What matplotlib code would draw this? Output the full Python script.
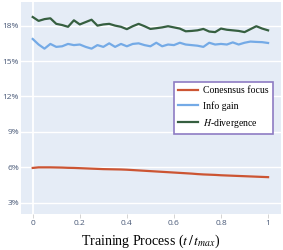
import matplotlib
matplotlib.use("Agg")
import matplotlib.pyplot as plt

plt.rcParams["mathtext.fontset"] = "stix"

progress = [i / 40 for i in range(41)]
consensus_focus = [5.95, 6.00, 6.00, 6.00, 5.99, 5.98, 5.96, 5.95, 5.93, 5.91,
                   5.89, 5.87, 5.85, 5.84, 5.83, 5.82, 5.80, 5.77, 5.74, 5.71,
                   5.68, 5.65, 5.62, 5.59, 5.56, 5.53, 5.50, 5.47, 5.43, 5.40,
                   5.38, 5.36, 5.33, 5.31, 5.29, 5.27, 5.25, 5.23, 5.21, 5.19, 5.17]
info_gain = [16.87, 16.40, 16.05, 16.45, 16.20, 16.25, 16.45, 16.35, 16.40, 16.20,
             16.05, 16.35, 16.20, 16.50, 16.20, 16.45, 16.25, 16.45, 16.50, 16.35,
             16.25, 16.55, 16.25, 16.40, 16.35, 16.55, 16.40, 16.35, 16.30, 16.20,
             16.55, 16.40, 16.45, 16.40, 16.58, 16.40, 16.55, 16.65, 16.62, 16.60, 16.53]
h_divergence = [18.73, 18.40, 18.55, 18.62, 18.15, 18.05, 17.90, 18.45, 18.10, 18.30,
                18.50, 18.00, 18.10, 18.15, 18.00, 17.90, 17.70, 17.95, 18.15, 17.95,
                17.72, 17.78, 17.85, 17.95, 17.85, 17.75, 17.52, 17.55, 17.60, 17.72,
                17.50, 17.45, 17.75, 17.65, 17.60, 17.55, 17.45, 17.70, 17.95, 17.75, 17.60]
series_names = ["Conesnsus focus", "Info gain", "$H$-divergence"]
x_ticks = [0, 0.2, 0.4, 0.6, 0.8, 1]
x_tick_labels = ["0", "0.2", "0.4", "0.6", "0.8", "1"]
y_ticks = [3, 6, 9, 12, 15, 18]
y_tick_labels = ["3%", "6%", "9%", "12%", "15%", "18%"]

colors = ["#cc5533", "#74aae6", "#365f40"]
tick_color = "#4a5a78"

fig = plt.figure(figsize=(2.83, 2.5), dpi=100)
ax = fig.add_axes([0.074, 0.144, 0.919, 0.848])
ax.set_facecolor("#E5ECF6")
for s in ax.spines.values():
    s.set_visible(False)

ax.set_xlim(-0.05, 1.055)
ax.set_ylim(2.05, 20.0)
ax.set_yticks(y_ticks)
ax.set_yticklabels(y_tick_labels)
ax.set_xticks(x_ticks)
ax.set_xticklabels(x_tick_labels)
ax.grid(axis="y", color="white", linewidth=1.0)
ax.axvline(0, color="white", linewidth=1.3, zorder=1)
ax.set_axisbelow(True)
ax.tick_params(axis="y", length=0, labelsize=6, labelcolor=tick_color, pad=1.5)
ax.tick_params(axis="x", length=3, width=0.6, color="#cccccc", labelsize=6,
               labelcolor=tick_color, pad=1.5)
for lab in ax.get_xticklabels() + ax.get_yticklabels():
    lab.set_family("Open Sans")

for vals, name, c in zip([consensus_focus, info_gain, h_divergence], series_names, colors):
    ax.plot(progress, vals, color=c, linewidth=1.6, label=name, zorder=3)

ax.set_xlabel("Training Process ($t\\,/\\,t_{max}$)", family="Liberation Serif",
              fontsize=10, labelpad=4)

leg = ax.legend(loc="upper left", bbox_to_anchor=(0.588, 0.623),
                prop={"family": "Liberation Serif", "size": 7},
                frameon=True, fancybox=False, handlelength=2.0,
                handletextpad=0.5, borderpad=0.45, labelspacing=0.6,
                borderaxespad=0)
leg.get_frame().set_edgecolor("#8e7cc3")
leg.get_frame().set_linewidth(1.2)
leg.get_frame().set_facecolor("white")
leg.get_frame().set_alpha(1)

fig.savefig("out.png", dpi=100)
